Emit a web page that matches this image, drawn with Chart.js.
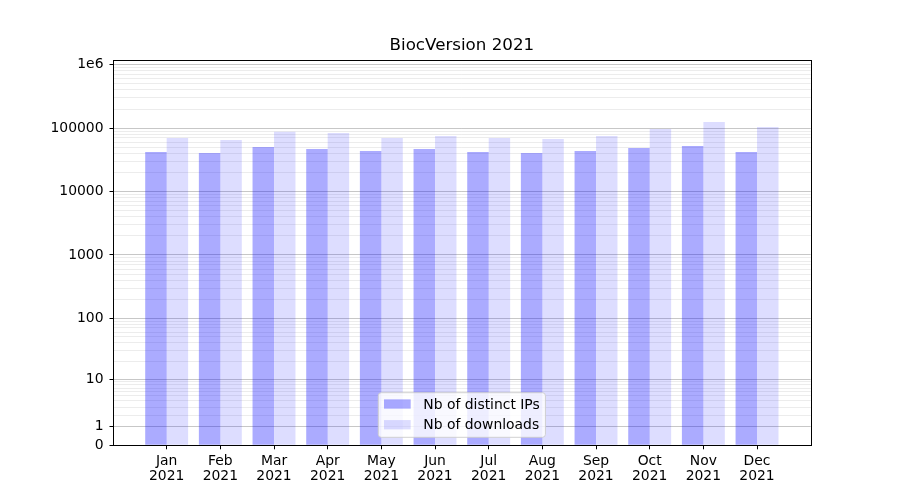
<!DOCTYPE html>
<html>
<head>
<meta charset="utf-8">
<title>BiocVersion 2021</title>
<script src="https://cdn.jsdelivr.net/npm/chart.js@4/dist/chart.umd.min.js"></script>
<style>
  body { margin: 0; background: #fff; }
</style>
</head>
<body>
<canvas id="Cnvs" width="900" height="500"></canvas>
<script>
var months = ['Jan', 'Feb', 'Mar', 'Apr', 'May', 'Jun', 'Jul', 'Aug', 'Sep', 'Oct', 'Nov', 'Dec'];
var year = '2021';
var distinct_ips = [42000, 40500, 50400, 46800, 43500, 46800, 42000, 40500, 43500, 48600, 52300, 42000];
var downloads = [69800, 64900, 87800, 83700, 69800, 75100, 69800, 67300, 75100, 96800, 124800, 104000];
var y_major = [0, 1, 10, 100, 1000, 10000, 100000, 1000000];
var y_major_labels = ['0', '1', '10', '100', '1000', '10000', '100000', '1e6'];
var chart_title = 'BiocVersion 2021';

// the y axis is log10(1 + x), so values are mapped before going to a linear scale
function tr(v) { return Math.log10(1 + v); }

var y_ticks = [];
y_major.forEach(function (v, i) {
  y_ticks.push({ value: tr(v), big: true, txt: y_major_labels[i] });
});
for (var k = 0; k < 6; k++) {
  for (var m = 2; m < 10; m++) {
    y_ticks.push({ value: tr(m * Math.pow(10, k)), big: false, txt: '' });
  }
}
y_ticks.sort(function (a, b) { return a.value - b.value; });

function points(arr) {
  return arr.map(function (v, i) { return { x: i, y: tr(v) }; });
}

var fontName = '"DejaVu Sans", sans-serif';

// title over the plot centre, frame round the plot + legend inside it, bottom centre
var insideLegend = {
  id: 'insideLegend',
  afterDraw: function (chart) {
    var c = chart.ctx, a = chart.chartArea;
    c.save();
    c.fillStyle = '#000';
    c.font = '16.7px ' + fontName;
    c.textAlign = 'center';
    c.textBaseline = 'middle';
    c.fillText(chart_title, (a.left + a.right) / 2, 46);

    c.strokeStyle = '#000';
    c.lineWidth = 1;
    c.strokeRect(Math.round(a.left) + 0.5, Math.round(a.top) + 0.5,
      Math.round(a.right - a.left), Math.round(a.bottom - a.top));

    c.font = '13.9px ' + fontName;
    var sets = chart.data.datasets;
    var tw = 0;
    sets.forEach(function (d) { tw = Math.max(tw, c.measureText(d.label).width); });
    var pad = 5.7, hl = 26.7, gap = 12.6, rowH = 20.7;
    var w = pad + hl + gap + tw + pad;
    var h = 44.6;
    var x0 = (a.left + a.right) / 2 - w / 2;
    var y0 = a.bottom - 8 - h;
    c.beginPath();
    c.roundRect(x0, y0, w, h, 3);
    c.fillStyle = 'rgba(255,255,255,0.8)';
    c.fill();
    c.strokeStyle = 'rgba(204,204,204,0.9)';
    c.stroke();
    c.textBaseline = 'middle';
    c.textAlign = 'left';
    sets.forEach(function (d, i) {
      var cy = y0 + 11.3 + i * rowH;
      c.fillStyle = d.backgroundColor;
      c.fillRect(x0 + pad, cy - 4.65, hl, 9.3);
      c.fillStyle = '#000';
      c.fillText(d.label, x0 + pad + hl + gap, cy + 1);
    });
    c.restore();
  }
};

var Cnvs = document.getElementById('Cnvs').getContext('2d');
var barChart = new Chart(Cnvs, {
  type: 'bar',
  data: {
    datasets: [
      { label: 'Nb of distinct IPs', data: points(distinct_ips), backgroundColor: 'rgba(0,0,255,0.33)', borderWidth: 0 },
      { label: 'Nb of downloads', data: points(downloads), backgroundColor: 'rgba(0,0,255,0.135)', borderWidth: 0 }
    ]
  },
  options: {
    responsive: false,
    animation: false,
    events: [],
    categoryPercentage: 0.8,
    barPercentage: 1.0,
    layout: { padding: { left: 0, right: 89.3, top: 60.3, bottom: 0 } },
    plugins: {
      legend: { display: false },
      tooltip: { enabled: false },
      title: { display: false }
    },
    scales: {
      x: {
        type: 'linear',
        offset: false,
        min: -1,
        max: 12,
        afterBuildTicks: function (scale) {
          scale.ticks = months.map(function (m, i) { return { value: i }; });
        },
        afterFit: function (scale) { scale.height = 54.7; },
        border: { display: false },
        grid: { offset: false, drawOnChartArea: false, drawTicks: true, tickLength: 4, tickColor: '#000', tickWidth: 1 },
        ticks: {
          autoSkip: false,
          maxRotation: 0,
          color: '#000',
          padding: 4,
          font: { family: fontName, size: 13.9, lineHeight: 1.1 },
          callback: function (value) { return [months[value], year]; }
        }
      },
      y: {
        type: 'linear',
        min: 0,
        max: 6.069,
        afterBuildTicks: function (scale) {
          scale.ticks = y_ticks.map(function (t) { return { value: t.value, big: t.big, txt: t.txt }; });
        },
        afterFit: function (scale) { scale.width = 113; },
        border: { display: false },
        grid: {
          drawTicks: true,
          tickLength: 3.5,
          color: function (ctx) {
            if (!ctx.tick || ctx.tick.value === 0) return 'rgba(0,0,0,0)';
            return ctx.tick.big ? 'rgba(0,0,0,0.22)' : 'rgba(0,0,0,0.075)';
          },
          tickColor: function (ctx) {
            return ctx.tick && ctx.tick.big ? '#000' : 'rgba(0,0,0,0)';
          },
          lineWidth: 1
        },
        ticks: {
          autoSkip: false,
          color: '#000',
          padding: 6,
          font: { family: fontName, size: 13.9 },
          callback: function (value, index) { return this.ticks[index].txt; }
        }
      }
    }
  },
  plugins: [insideLegend]
});
</script>
</body>
</html>
